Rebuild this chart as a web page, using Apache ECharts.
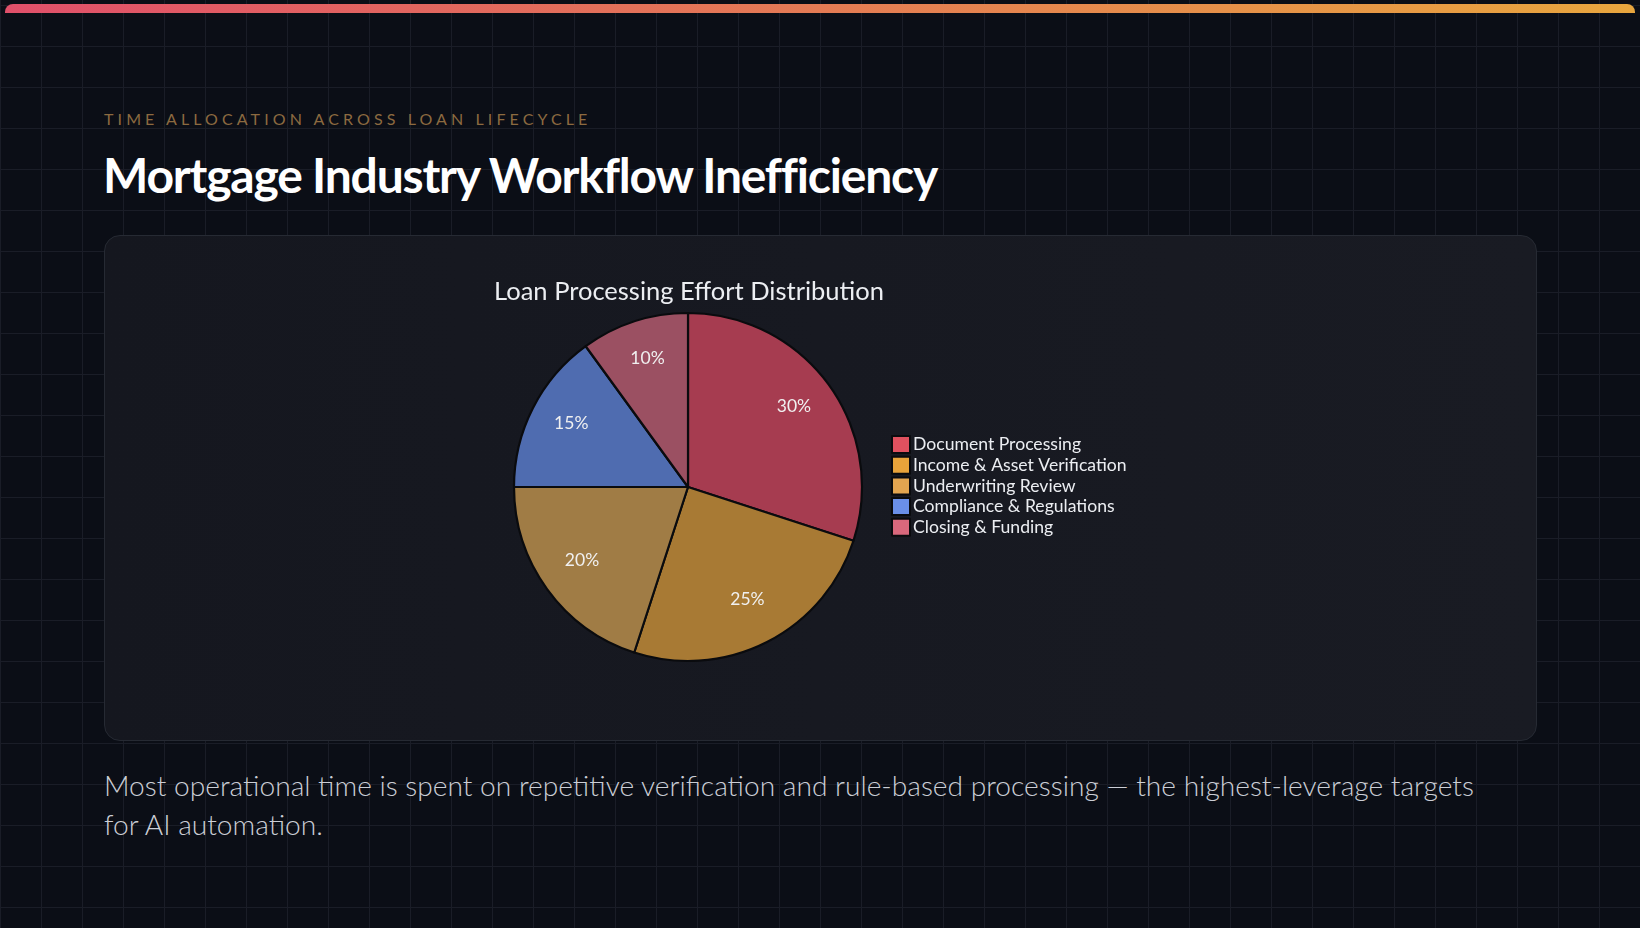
<!DOCTYPE html>
<html>
<head>
<meta charset="utf-8">
<script src="https://cdn.jsdelivr.net/npm/echarts@6/dist/echarts.min.js"></script>
<style>
  html, body { margin: 0; padding: 0; }
  body {
    width: 1640px; height: 928px; overflow: hidden; position: relative;
    background-color: #0b0e16;
    background-image:
      linear-gradient(to right, #1a1d27 1px, transparent 1px),
      linear-gradient(to bottom, #1a1d27 1px, transparent 1px);
    background-size: 41px 41px;
    background-position: 0 5px;
    font-family: Lato, "Noto Sans", sans-serif;
  }
  #topbar {
    position: absolute; left: 5px; top: 4px; width: 1630px; height: 9px;
    border-radius: 8px 8px 0 0;
    background: linear-gradient(to right, #e0506a, #e8a63e);
  }
  #kicker {
    position: absolute; left: 104px; top: 110px;
    font-size: 16px; letter-spacing: 4.1px; color: #8c6a40; line-height: 18px;
    font-weight: 400;
  }
  #headline {
    position: absolute; left: 103px; top: 147px;
    font-size: 48px; font-weight: 700; color: #ffffff; line-height: 56px;
    letter-spacing: -1.2px;
  }
  #card {
    position: absolute; left: 104px; top: 235px; width: 1431px; height: 504px;
    background: linear-gradient(to right, #15171f, #191b23);
    border: 1px solid #262a33; border-radius: 16px;
  }
  #caption {
    position: absolute; left: 104px; top: 766px; width: 1500px;
    font-size: 28.15px; font-weight: 300; color: #cbced6; line-height: 39px;
  }
  #chart { position: absolute; left: 0; top: 0; width: 1640px; height: 928px; }
</style>
</head>
<body>
<div id="topbar"></div>
<div id="kicker">TIME ALLOCATION ACROSS LOAN LIFECYCLE</div>
<div id="headline">Mortgage Industry Workflow Inefficiency</div>
<div id="card"></div>
<div id="caption">Most operational time is spent on repetitive verification and rule-based processing — the highest-leverage targets<br>for AI automation.</div>
<div id="chart"></div>
<script>
const chartTitle = 'Loan Processing Effort Distribution';
const categories = ['Document Processing', 'Income & Asset Verification', 'Underwriting Review', 'Compliance & Regulations', 'Closing & Funding'];
const values = [30, 25, 20, 15, 10];
const sliceColors = ['#a63c50', '#a87a34', '#a07c45', '#4f6cb0', '#9b5062'];
const legendColors = ['#e0515f', '#e8a33a', '#e2a550', '#6a8fe8', '#d9687c'];

const chart = echarts.init(document.getElementById('chart'), null, { renderer: 'canvas' });
const total = values.reduce((a, b) => a + b, 0);
const pieData = categories.map((c, i) => ({ name: c, value: values[i], itemStyle: { color: sliceColors[i] } }));

chart.setOption({
  backgroundColor: 'transparent',
  animation: false,
  title: {
    text: chartTitle,
    left: 684, top: 274, textAlign: 'center',
    textStyle: { color: '#eceef2', fontSize: 25.5, fontWeight: 400, fontFamily: 'Lato' }
  },
  legend: {
    orient: 'vertical',
    left: 886, top: 430,
    itemWidth: 18, itemHeight: 17, itemGap: 1.7,
    icon: 'rect',
    selectedMode: false,
    textStyle: { color: '#eceef2', fontSize: 17.6, fontFamily: 'Lato', padding: [0, 0, 0, -2] },
    data: categories.map((c, i) => ({ name: c, itemStyle: { color: legendColors[i] } }))
  },
  series: [
    {
      type: 'pie',
      center: [688, 487],
      radius: [0, 174],
      startAngle: 90,
      clockwise: true,
      label: { show: false },
      labelLine: { show: false },
      itemStyle: { borderColor: '#0a0b0e', borderWidth: 2.2 },
      emphasis: { disabled: true },
      data: pieData
    },
    {
      type: 'pie',
      center: [688, 487],
      radius: [82, 174],
      startAngle: 90,
      clockwise: true,
      silent: true,
      legendHoverLink: false,
      itemStyle: { color: 'transparent', borderWidth: 0 },
      label: {
        show: true, position: 'inside',
        formatter: p => Math.round(p.value / total * 100) + '%',
        color: '#f0f0f0', fontSize: 17.5, fontFamily: 'Lato'
      },
      labelLayout: { dy: -4 },
      labelLine: { show: false },
      emphasis: { disabled: true },
      data: categories.map((c, i) => ({ name: c + ' ', value: values[i] }))
    }
  ]
});
</script>
</body>
</html>
